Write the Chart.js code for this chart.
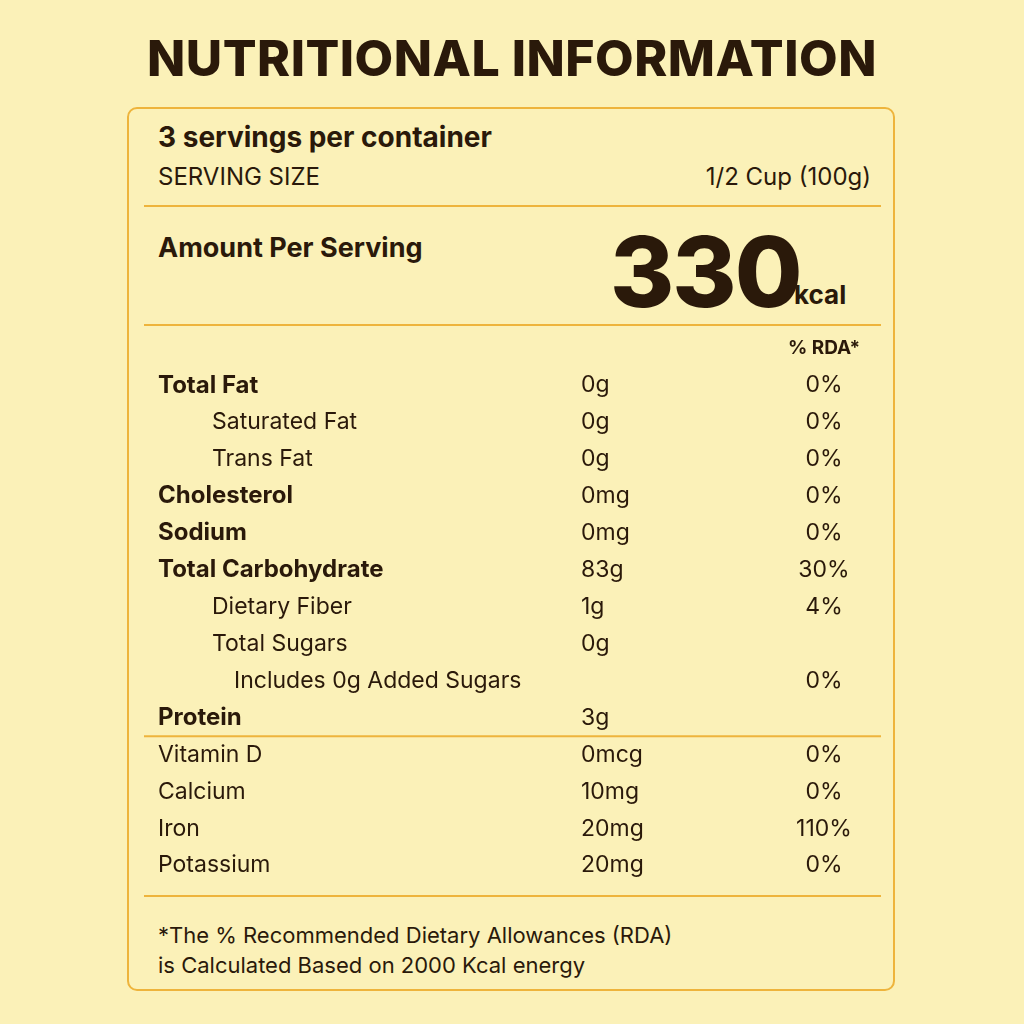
<!DOCTYPE html>
<html><head><meta charset="utf-8">
<script src="https://cdn.jsdelivr.net/npm/chart.js@4"></script>
<style>
html,body{margin:0;padding:0;background:#fbf1b8;width:1024px;height:1024px;overflow:hidden;font-family:Inter,"Open Sans",sans-serif;color:#2a190a}
.t{position:absolute;white-space:nowrap}
#box{position:absolute;left:127px;top:107px;width:768px;height:884px;border:2px solid #eeb43c;border-radius:10px;box-sizing:border-box}
.ln{position:absolute;left:144px;width:737px;height:2px;background:#eeb43c}
#wrap{position:absolute;left:127px;top:330px;width:770px;height:554px}
</style></head><body>
<div class="t" style="left:0;width:1024px;text-align:center;top:28px;font-size:50px;font-weight:800;letter-spacing:0.5px">NUTRITIONAL INFORMATION</div>
<div id="box"></div>
<div class="t" style="left:158px;top:120px;font-size:28px;font-weight:700">3 servings per container</div>
<div class="t" style="left:158px;top:162px;font-size:24px">SERVING SIZE</div>
<div class="t" style="right:153px;top:162px;font-size:24px">1/2 Cup (100g)</div>
<div class="ln" style="top:205px"></div>
<div class="t" style="left:158px;top:231px;font-size:27px;font-weight:700">Amount Per Serving</div>
<div class="t" style="left:610px;top:212px;font-size:98px;font-weight:800;letter-spacing:-2px">330</div>
<div class="t" style="left:794px;top:279px;font-size:26px;font-weight:700">kcal</div>
<div class="ln" style="top:324px"></div>
<div class="ln" style="top:895px"></div>
<div class="t" style="left:158px;top:920px;font-size:22px;line-height:30px">*The % Recommended Dietary Allowances (RDA)<br>is Calculated Based on 2000 Kcal energy</div>
<div id="wrap"><canvas id="c"></canvas></div>
<script>
const nutrients = ["", "Total Fat", "Saturated Fat", "Trans Fat", "Cholesterol", "Sodium", "Total Carbohydrate", "Dietary Fiber", "Total Sugars", "Includes 0g Added Sugars", "Protein", "Vitamin D", "Calcium", "Iron", "Potassium"];
const amounts = ["", "0g", "0g", "0g", "0mg", "0mg", "83g", "1g", "0g", "", "3g", "0mcg", "10mg", "20mg", "20mg"];
const rda = ["% RDA*", "0%", "0%", "0%", "0%", "0%", "30%", "4%", "", "0%", "", "0%", "0%", "110%", "0%"];
const indent = [0, 0, 1, 1, 0, 0, 0, 1, 1, 2, 0, 0, 0, 0, 0];
const bold = [1, 1, 0, 0, 1, 1, 1, 0, 0, 0, 1, 0, 0, 0, 0];

const textPlugin = {
  id: 'labelText',
  afterDraw(chart) {
    const ctx = chart.ctx, y = chart.scales.y;
    ctx.save();
    ctx.fillStyle = '#2a190a';
    ctx.textBaseline = 'middle';
    nutrients.forEach((n, i) => {
      const py = y.getPixelForValue(i);
      const f = bold[i] ? '700 24px Inter, sans-serif' : '400 23px Inter, sans-serif';
      ctx.font = f; ctx.textAlign = 'left';
      ctx.fillText(n, 31 + [0, 54, 76][indent[i]], py);
      ctx.font = '400 23px Inter, sans-serif';
      ctx.fillText(amounts[i], 454, py);
      ctx.textAlign = 'center';
      ctx.font = i === 0 ? '700 19px Inter, sans-serif' : '400 23px Inter, sans-serif';
      ctx.fillText(rda[i], 697, py);
    });
    const mid = (y.getPixelForValue(10) + y.getPixelForValue(11)) / 2;
    ctx.fillStyle = '#eeb43c';
    ctx.fillRect(17, mid - 1, 737, 2);
    ctx.restore();
  }
};

new Chart(document.getElementById('c'), {
  type: 'bar',
  data: { labels: nutrients.map((n, i) => i), datasets: [{ data: nutrients.map(() => 0), backgroundColor: 'transparent' }] },
  options: {
    indexAxis: 'y', responsive: true, maintainAspectRatio: false, animation: false,
    layout: { padding: 0 },
    plugins: { legend: { display: false }, tooltip: { enabled: false } },
    scales: { x: { display: false }, y: { display: false } }
  },
  plugins: [textPlugin]
});
</script>
</body></html>
